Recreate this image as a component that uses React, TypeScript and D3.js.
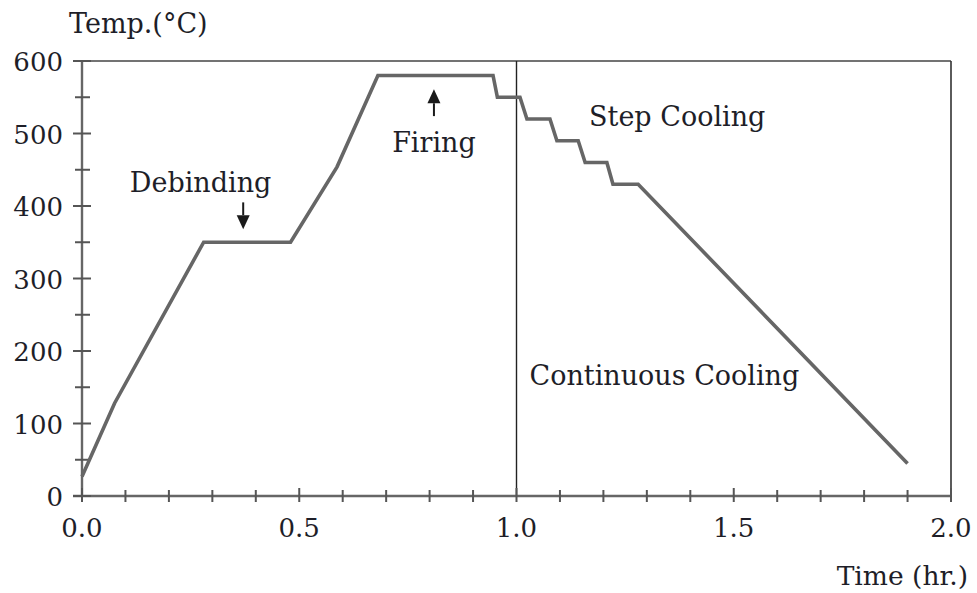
import React from "react";
import * as d3 from "d3";

const timeHr = [0, 0.075, 0.28, 0.48, 0.587, 0.681, 0.946, 0.956, 1.008, 1.024, 1.077, 1.093, 1.142, 1.158, 1.208, 1.222, 1.28, 1.9];
const tempC = [27, 128, 350, 350, 454, 580, 580, 550, 550, 520, 520, 490, 490, 460, 460, 430, 430, 45];
const xTickLabels = ["0.0", "0.5", "1.0", "1.5", "2.0"];
const yTickLabels = ["0", "100", "200", "300", "400", "500", "600"];
const annotations = [
  { text: "Debinding", x: 0.11, y: 420, anchor: "start" },
  { text: "Firing", x: 0.81, y: 475, anchor: "middle" },
  { text: "Step Cooling", x: 1.167, y: 511, anchor: "start" },
  { text: "Continuous Cooling", x: 1.03, y: 153, anchor: "start" },
];
const arrows = [
  { x: 0.371, from: 405, to: 368, dir: "down" },
  { x: 0.81, from: 524, to: 561, dir: "up" },
];

const W = 977;
const H = 593;
const x0 = 82, x1 = 951, y0 = 496, y1 = 61;
const FONT = "'DejaVu Serif', serif";
const TXT = "#1e1e28";

export default function App() {
  const x = d3.scaleLinear().domain([0, 2]).range([x0, x1]);
  const y = d3.scaleLinear().domain([0, 600]).range([y0, y1]);
  const line = d3.line<number>().x((_, i) => x(timeHr[i])).y((d) => y(d));
  const xMinor = d3.range(0, 21).map((i) => i / 10).filter((v) => Math.abs(v * 2 - Math.round(v * 2)) > 1e-6);
  const yMinor = d3.range(50, 600, 100);
  const xMajor = xTickLabels.map(Number);
  const yMajor = yTickLabels.map(Number);

  return (
    <svg width={W} height={H} style={{ position: "absolute", left: 0, top: 0, background: "#fff" }}>
      {/* frame */}
      <line x1={x0 - 9} x2={x1} y1={y1} y2={y1} stroke="#444" strokeWidth={1.6} />
      <line x1={x1} x2={x1} y1={y1} y2={y0} stroke="#333" strokeWidth={1.6} />
      <line x1={x(1)} x2={x(1)} y1={y1} y2={y0} stroke="#222" strokeWidth={1.4} />
      {/* axes */}
      <line x1={x0} x2={x0} y1={y1} y2={y0 + 1} stroke="#666" strokeWidth={2.4} />
      <line x1={x0 - 9} x2={x1} y1={y0} y2={y0} stroke="#666" strokeWidth={2.4} />
      {yMajor.map((v) => (
        <line key={"ym" + v} x1={x0 - 9} x2={x0 + 9} y1={y(v)} y2={y(v)} stroke="#555" strokeWidth={2} />
      ))}
      {yMinor.map((v) => (
        <line key={"yn" + v} x1={x0 - 7} x2={x0 + 8} y1={y(v)} y2={y(v)} stroke="#555" strokeWidth={2} />
      ))}
      {xMajor.map((v) => (
        <line key={"xm" + v} x1={x(v)} x2={x(v)} y1={y0 - 8} y2={y0 + 6} stroke="#555" strokeWidth={2} />
      ))}
      {xMinor.map((v) => (
        <line key={"xn" + v} x1={x(v)} x2={x(v)} y1={y0 - 6} y2={y0 + 6} stroke="#555" strokeWidth={2} />
      ))}
      {yTickLabels.map((t) => (
        <text key={"yl" + t} x={63} y={y(Number(t)) + 10} textAnchor="end" fontFamily={FONT} fontSize={26} fill={TXT}>
          {t}
        </text>
      ))}
      {xTickLabels.map((t) => (
        <text key={"xl" + t} x={x(Number(t))} y={537} textAnchor="middle" fontFamily={FONT} fontSize={26} fill={TXT}>
          {t}
        </text>
      ))}
      <text x={69} y={33} fontFamily={FONT} fontSize={27} fill={TXT}>Temp.(°C)</text>
      <text x={968} y={585} textAnchor="end" fontFamily={FONT} fontSize={26.5} fill={TXT}>Time (hr.)</text>
      {/* data line */}
      <path d={line(tempC) || ""} fill="none" stroke="#666" strokeWidth={3.6} strokeLinejoin="miter" />
      {/* annotations */}
      {annotations.map((a) => (
        <text key={a.text} x={x(a.x)} y={y(a.y)} textAnchor={a.anchor as any} fontFamily={FONT} fontSize={27} fill={TXT}>
          {a.text}
        </text>
      ))}
      {arrows.map((a, i) => {
        const ax = x(a.x);
        const yf = y(a.from);
        const yt = y(a.to);
        const s = a.dir === "down" ? 1 : -1;
        const headLen = 14;
        return (
          <g key={"ar" + i}>
            <line x1={ax} x2={ax} y1={yf} y2={yt - s * headLen} stroke="#1a1a1a" strokeWidth={2} />
            <path d={`M${ax - 6.5},${yt - s * headLen} L${ax + 6.5},${yt - s * headLen} L${ax},${yt} Z`} fill="#1a1a1a" />
          </g>
        );
      })}
    </svg>
  );
}
